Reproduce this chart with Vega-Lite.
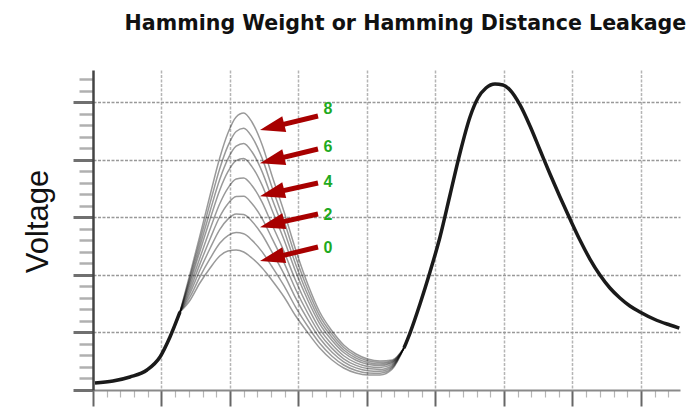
{
  "$schema": "https://vega.github.io/schema/vega-lite/v6.json",
  "width": 587,
  "height": 320,
  "autosize": {"type": "none"},
  "padding": {"left": 93, "top": 70, "right": 10, "bottom": 19},
  "background": "white",
  "title": {"text": "Hamming Weight or Hamming Distance Leakage", "font": "DejaVu Sans", "fontSize": 20.6, "fontWeight": "bold", "anchor": "end", "offset": 35, "color": "#111"},
  "config": {"view": {"stroke": null}},
  "datasets": {
    "common": [
      {"seg": "a", "x": 0.029, "y": 0.122}, {"seg": "a", "x": 0.292, "y": 0.157}, {"seg": "a", "x": 0.540, "y": 0.226}, {"seg": "a", "x": 0.788, "y": 0.348}, {"seg": "a", "x": 0.978, "y": 0.574}, {"seg": "a", "x": 1.124, "y": 0.922}, {"seg": "a", "x": 1.270, "y": 1.357},
      {"seg": "b", "x": 4.540, "y": 0.730}, {"seg": "b", "x": 4.628, "y": 0.991}, {"seg": "b", "x": 4.774, "y": 1.496}, {"seg": "b", "x": 4.920, "y": 2.052}, {"seg": "b", "x": 5.066, "y": 2.661}, {"seg": "b", "x": 5.212, "y": 3.391}, {"seg": "b", "x": 5.358, "y": 4.122}, {"seg": "b", "x": 5.504, "y": 4.748}, {"seg": "b", "x": 5.620, "y": 5.078}, {"seg": "b", "x": 5.737, "y": 5.252}, {"seg": "b", "x": 5.869, "y": 5.322}, {"seg": "b", "x": 5.985, "y": 5.304}, {"seg": "b", "x": 6.088, "y": 5.217}, {"seg": "b", "x": 6.234, "y": 4.957}, {"seg": "b", "x": 6.380, "y": 4.591}, {"seg": "b", "x": 6.526, "y": 4.174}, {"seg": "b", "x": 6.672, "y": 3.757}, {"seg": "b", "x": 6.818, "y": 3.357}, {"seg": "b", "x": 6.964, "y": 2.974}, {"seg": "b", "x": 7.109, "y": 2.609}, {"seg": "b", "x": 7.255, "y": 2.278}, {"seg": "b", "x": 7.401, "y": 2.000}, {"seg": "b", "x": 7.547, "y": 1.774}, {"seg": "b", "x": 7.693, "y": 1.600}, {"seg": "b", "x": 7.839, "y": 1.461}, {"seg": "b", "x": 7.985, "y": 1.357}, {"seg": "b", "x": 8.204, "y": 1.226}, {"seg": "b", "x": 8.423, "y": 1.130}, {"seg": "b", "x": 8.560, "y": 1.075}
    ],
    "curves": [
      {"k":0,"x":1.27,"y":1.357},{"k":0,"x":1.42,"y":1.565},{"k":0,"x":1.56,"y":1.861},{"k":0,"x":1.71,"y":2.122},{"k":0,"x":1.85,"y":2.330},{"k":0,"x":1.97,"y":2.417},{"k":0,"x":2.09,"y":2.435},{"k":0,"x":2.20,"y":2.400},{"k":0,"x":2.32,"y":2.296},{"k":0,"x":2.47,"y":2.122},{"k":0,"x":2.61,"y":1.913},{"k":0,"x":2.79,"y":1.617},{"k":0,"x":2.96,"y":1.287},{"k":0,"x":3.14,"y":0.991},{"k":0,"x":3.31,"y":0.730},{"k":0,"x":3.49,"y":0.522},{"k":0,"x":3.66,"y":0.383},{"k":0,"x":3.84,"y":0.296},{"k":0,"x":4.01,"y":0.261},{"k":0,"x":4.19,"y":0.261},{"k":0,"x":4.37,"y":0.365},{"k":0,"x":4.54,"y":0.730},
      {"k":1,"x":1.27,"y":1.357},{"k":1,"x":1.42,"y":1.627},{"k":1,"x":1.56,"y":1.968},{"k":1,"x":1.71,"y":2.288},{"k":1,"x":1.85,"y":2.553},{"k":1,"x":1.97,"y":2.686},{"k":1,"x":2.09,"y":2.738},{"k":1,"x":2.20,"y":2.717},{"k":1,"x":2.32,"y":2.606},{"k":1,"x":2.47,"y":2.402},{"k":1,"x":2.61,"y":2.152},{"k":1,"x":2.79,"y":1.811},{"k":1,"x":2.96,"y":1.437},{"k":1,"x":3.14,"y":1.100},{"k":1,"x":3.31,"y":0.812},{"k":1,"x":3.49,"y":0.588},{"k":1,"x":3.66,"y":0.435},{"k":1,"x":3.84,"y":0.339},{"k":1,"x":4.01,"y":0.297},{"k":1,"x":4.19,"y":0.293},{"k":1,"x":4.37,"y":0.386},{"k":1,"x":4.54,"y":0.730},
      {"k":2,"x":1.27,"y":1.357},{"k":2,"x":1.42,"y":1.692},{"k":2,"x":1.56,"y":2.082},{"k":2,"x":1.71,"y":2.465},{"k":2,"x":1.85,"y":2.790},{"k":2,"x":1.97,"y":2.971},{"k":2,"x":2.09,"y":3.060},{"k":2,"x":2.20,"y":3.053},{"k":2,"x":2.32,"y":2.935},{"k":2,"x":2.47,"y":2.700},{"k":2,"x":2.61,"y":2.406},{"k":2,"x":2.79,"y":2.016},{"k":2,"x":2.96,"y":1.597},{"k":2,"x":3.14,"y":1.216},{"k":2,"x":3.31,"y":0.899},{"k":2,"x":3.49,"y":0.658},{"k":2,"x":3.66,"y":0.491},{"k":2,"x":3.84,"y":0.385},{"k":2,"x":4.01,"y":0.336},{"k":2,"x":4.19,"y":0.327},{"k":2,"x":4.37,"y":0.407},{"k":2,"x":4.54,"y":0.730},
      {"k":3,"x":1.27,"y":1.357},{"k":3,"x":1.42,"y":1.753},{"k":3,"x":1.56,"y":2.189},{"k":3,"x":1.71,"y":2.631},{"k":3,"x":1.85,"y":3.013},{"k":3,"x":1.97,"y":3.240},{"k":3,"x":2.09,"y":3.363},{"k":3,"x":2.20,"y":3.369},{"k":3,"x":2.32,"y":3.244},{"k":3,"x":2.47,"y":2.980},{"k":3,"x":2.61,"y":2.645},{"k":3,"x":2.79,"y":2.210},{"k":3,"x":2.96,"y":1.747},{"k":3,"x":3.14,"y":1.326},{"k":3,"x":3.31,"y":0.981},{"k":3,"x":3.49,"y":0.724},{"k":3,"x":3.66,"y":0.543},{"k":3,"x":3.84,"y":0.428},{"k":3,"x":4.01,"y":0.372},{"k":3,"x":4.19,"y":0.358},{"k":3,"x":4.37,"y":0.428},{"k":3,"x":4.54,"y":0.730},
      {"k":4,"x":1.27,"y":1.357},{"k":4,"x":1.42,"y":1.816},{"k":4,"x":1.56,"y":2.296},{"k":4,"x":1.71,"y":2.799},{"k":4,"x":1.85,"y":3.238},{"k":4,"x":1.97,"y":3.511},{"k":4,"x":2.09,"y":3.668},{"k":4,"x":2.20,"y":3.688},{"k":4,"x":2.32,"y":3.557},{"k":4,"x":2.47,"y":3.262},{"k":4,"x":2.61,"y":2.886},{"k":4,"x":2.79,"y":2.405},{"k":4,"x":2.96,"y":1.899},{"k":4,"x":3.14,"y":1.436},{"k":4,"x":3.31,"y":1.064},{"k":4,"x":3.49,"y":0.791},{"k":4,"x":3.66,"y":0.596},{"k":4,"x":3.84,"y":0.472},{"k":4,"x":4.01,"y":0.409},{"k":4,"x":4.19,"y":0.391},{"k":4,"x":4.37,"y":0.449},{"k":4,"x":4.54,"y":0.730},
      {"k":5,"x":1.27,"y":1.357},{"k":5,"x":1.42,"y":1.881},{"k":5,"x":1.56,"y":2.410},{"k":5,"x":1.71,"y":2.975},{"k":5,"x":1.85,"y":3.475},{"k":5,"x":1.97,"y":3.796},{"k":5,"x":2.09,"y":3.989},{"k":5,"x":2.20,"y":4.024},{"k":5,"x":2.32,"y":3.885},{"k":5,"x":2.47,"y":3.559},{"k":5,"x":2.61,"y":3.140},{"k":5,"x":2.79,"y":2.610},{"k":5,"x":2.96,"y":2.058},{"k":5,"x":3.14,"y":1.552},{"k":5,"x":3.31,"y":1.151},{"k":5,"x":3.49,"y":0.861},{"k":5,"x":3.66,"y":0.652},{"k":5,"x":3.84,"y":0.518},{"k":5,"x":4.01,"y":0.448},{"k":5,"x":4.19,"y":0.424},{"k":5,"x":4.37,"y":0.471},{"k":5,"x":4.54,"y":0.730},
      {"k":6,"x":1.27,"y":1.357},{"k":6,"x":1.42,"y":1.932},{"k":6,"x":1.56,"y":2.499},{"k":6,"x":1.71,"y":3.114},{"k":6,"x":1.85,"y":3.661},{"k":6,"x":1.97,"y":4.020},{"k":6,"x":2.09,"y":4.241},{"k":6,"x":2.20,"y":4.288},{"k":6,"x":2.32,"y":4.143},{"k":6,"x":2.47,"y":3.793},{"k":6,"x":2.61,"y":3.339},{"k":6,"x":2.79,"y":2.771},{"k":6,"x":2.96,"y":2.184},{"k":6,"x":3.14,"y":1.643},{"k":6,"x":3.31,"y":1.219},{"k":6,"x":3.49,"y":0.916},{"k":6,"x":3.66,"y":0.695},{"k":6,"x":3.84,"y":0.554},{"k":6,"x":4.01,"y":0.478},{"k":6,"x":4.19,"y":0.451},{"k":6,"x":4.37,"y":0.488},{"k":6,"x":4.54,"y":0.730},
      {"k":7,"x":1.27,"y":1.357},{"k":7,"x":1.42,"y":1.984},{"k":7,"x":1.56,"y":2.589},{"k":7,"x":1.71,"y":3.254},{"k":7,"x":1.85,"y":3.848},{"k":7,"x":1.97,"y":4.245},{"k":7,"x":2.09,"y":4.496},{"k":7,"x":2.20,"y":4.554},{"k":7,"x":2.32,"y":4.403},{"k":7,"x":2.47,"y":4.028},{"k":7,"x":2.61,"y":3.540},{"k":7,"x":2.79,"y":2.934},{"k":7,"x":2.96,"y":2.310},{"k":7,"x":3.14,"y":1.735},{"k":7,"x":3.31,"y":1.288},{"k":7,"x":3.49,"y":0.971},{"k":7,"x":3.66,"y":0.739},{"k":7,"x":3.84,"y":0.590},{"k":7,"x":4.01,"y":0.509},{"k":7,"x":4.19,"y":0.478},{"k":7,"x":4.37,"y":0.505},{"k":7,"x":4.54,"y":0.730},
      {"k":8,"x":1.27,"y":1.357},{"k":8,"x":1.42,"y":2.035},{"k":8,"x":1.56,"y":2.678},{"k":8,"x":1.71,"y":3.392},{"k":8,"x":1.85,"y":4.034},{"k":8,"x":1.97,"y":4.469},{"k":8,"x":2.09,"y":4.748},{"k":8,"x":2.20,"y":4.817},{"k":8,"x":2.32,"y":4.661},{"k":8,"x":2.47,"y":4.261},{"k":8,"x":2.61,"y":3.739},{"k":8,"x":2.79,"y":3.095},{"k":8,"x":2.96,"y":2.435},{"k":8,"x":3.14,"y":1.826},{"k":8,"x":3.31,"y":1.356},{"k":8,"x":3.49,"y":1.026},{"k":8,"x":3.66,"y":0.783},{"k":8,"x":3.84,"y":0.626},{"k":8,"x":4.01,"y":0.539},{"k":8,"x":4.19,"y":0.504},{"k":8,"x":4.37,"y":0.522},{"k":8,"x":4.54,"y":0.730}
    ],
    "arrows": [
      {"lab": "8", "x1": 3.285, "y1": 4.765, "x2": 2.615, "y2": 4.572, "tx": 3.431, "ty": 4.887},
      {"lab": "6", "x1": 3.285, "y1": 4.191, "x2": 2.615, "y2": 3.998, "tx": 3.431, "ty": 4.226},
      {"lab": "4", "x1": 3.285, "y1": 3.600, "x2": 2.615, "y2": 3.424, "tx": 3.431, "ty": 3.617},
      {"lab": "2", "x1": 3.285, "y1": 3.061, "x2": 2.615, "y2": 2.885, "tx": 3.431, "ty": 3.043},
      {"lab": "0", "x1": 3.285, "y1": 2.487, "x2": 2.615, "y2": 2.294, "tx": 3.431, "ty": 2.470}
    ]
  },
  "layer": [
    {
      "data": {"name": "common"},
      "mark": {"type": "line", "interpolate": "monotone", "color": "#1a1a1a", "strokeWidth": 3.5},
      "encoding": {
        "x": {"field": "x", "type": "quantitative", "scale": {"domain": [0, 8.57], "nice": false, "zero": false},
          "axis": {
            "values": [0,0.2,0.4,0.6,0.8,1,1.2,1.4,1.6,1.8,2,2.2,2.4,2.6,2.8,3,3.2,3.4,3.6,3.8,4,4.2,4.4,4.6,4.8,5,5.2,5.4,5.6,5.8,6,6.2,6.4,6.6,6.8,7,7.2,7.4,7.6,7.8,8,8.2,8.4],
            "tickCount": 200,
            "labels": false, "title": null,
            "domainColor": "#8a8a8a", "domainWidth": 2,
            "tickSize": {"condition": {"test": "datum.value % 1 == 0", "value": 16}, "value": 7},
            "tickColor": {"condition": {"test": "datum.value % 1 == 0", "value": "#666666"}, "value": "#b5b5b5"},
            "tickWidth": {"condition": {"test": "datum.value % 1 == 0", "value": 2}, "value": 1.2},
            "grid": true,
            "gridColor": "#b5b5b5",
            "gridOpacity": {"condition": {"test": "datum.value % 1 == 0 && datum.value > 0", "value": 1}, "value": 0},
            "gridDash": [3, 1.5], "gridWidth": 1.5
          }},
        "y": {"field": "y", "type": "quantitative", "scale": {"domain": [0, 5.565], "nice": false, "zero": false},
          "axis": {
            "values": [0,0.2,0.4,0.6,0.8,1,1.2,1.4,1.6,1.8,2,2.2,2.4,2.6,2.8,3,3.2,3.4,3.6,3.8,4,4.2,4.4,4.6,4.8,5,5.2,5.4],
            "tickCount": 200,
            "labels": false,
            "title": "Voltage",
            "titleFont": "Liberation Sans", "titleFontSize": 31, "titleFontWeight": "normal", "titleColor": "#111",
            "titleAngle": -90, "titleAlign": "center", "titleBaseline": "alphabetic",
            "titleX": -46, "titleY": 151,
            "domainColor": "#444444", "domainWidth": 2.5,
            "tickSize": {"condition": {"test": "datum.value % 1 == 0", "value": 20}, "value": 14},
            "tickColor": {"condition": {"test": "datum.value % 1 == 0", "value": "#707070"}, "value": "#b0b0b0"},
            "tickWidth": {"condition": {"test": "datum.value % 1 == 0", "value": 3}, "value": 2.5},
            "grid": true,
            "gridColor": "#999999",
            "gridOpacity": {"condition": {"test": "datum.value % 1 == 0 && datum.value > 0", "value": 1}, "value": 0},
            "gridDash": [3, 1.5], "gridWidth": 1.5
          }},
        "detail": {"field": "seg", "type": "nominal"}
      }
    },
    {
      "data": {"name": "curves"},
      "mark": {"type": "line", "interpolate": "monotone", "color": "#000000", "opacity": 0.4, "strokeWidth": 1.5},
      "encoding": {
        "x": {"field": "x", "type": "quantitative"},
        "y": {"field": "y", "type": "quantitative"},
        "detail": {"field": "k", "type": "nominal"}
      }
    },
    {
      "data": {"name": "arrows"},
      "mark": {"type": "rule", "color": "#a80000", "strokeWidth": 5},
      "encoding": {
        "x": {"field": "x1", "type": "quantitative"},
        "y": {"field": "y1", "type": "quantitative"},
        "x2": {"field": "x2"},
        "y2": {"field": "y2"}
      }
    },
    {
      "data": {"name": "arrows"},
      "mark": {"type": "point", "shape": "M0,-1L0.65,1L-0.65,1Z", "filled": true, "color": "#a80000", "opacity": 1, "size": 625, "angle": 256},
      "encoding": {
        "x": {"field": "x2", "type": "quantitative"},
        "y": {"field": "y2", "type": "quantitative"}
      }
    },
    {
      "data": {"name": "arrows"},
      "mark": {"type": "text", "font": "Liberation Sans", "fontSize": 16, "fontWeight": "bold", "color": "#1faa1f", "align": "center", "baseline": "middle"},
      "encoding": {
        "x": {"field": "tx", "type": "quantitative"},
        "y": {"field": "ty", "type": "quantitative"},
        "text": {"field": "lab", "type": "nominal"}
      }
    }
  ]
}
